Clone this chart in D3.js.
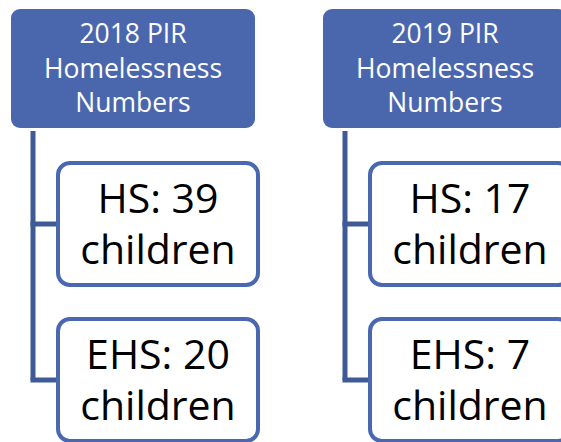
<!DOCTYPE html>
<html>
<head>
<meta charset="utf-8">
<script src="https://cdn.jsdelivr.net/npm/d3@7"></script>
<style>
  html, body { margin: 0; padding: 0; background: #fff; }
  svg { display: block; }
  text { font-family: "Open Sans", "Noto Sans", sans-serif; }
</style>
</head>
<body>
<svg id="chart" width="561" height="442"></svg>
<script>
// Data
const years = ['2018', '2019'];
const programs = ['HS', 'EHS'];
const hsCounts = [39, 17];
const ehsCounts = [20, 7];
const headerLines = ['PIR', 'Homelessness', 'Numbers'];

// Colours
const HEADER_FILL = '#4a67ae';
const LINK_COLOR = '#3f5b97';
const CHILD_STROKE = '#4a68b0';

const svg = d3.select('#chart');

// column per year, row per program
let x = d3.scaleBand().domain(years).range([11, 567]).paddingInner(68 / 312);
let y = d3.scaleBand().domain(programs).range([161, 443]).paddingInner(30 / 156);

const HEADER_TOP = 9, HEADER_H = 119;
const CHILD_OFFSET = 45, CHILD_W = 204;
const LINK_OFFSET = 22;

let counts = { HS: hsCounts, EHS: ehsCounts };

years.forEach((yr, i) => {
  let cx = x(yr);
  let g = svg.append('g');

  // connector: vertical trunk then one branch per child
  let lx = cx + LINK_OFFSET;
  let lastMid = y(programs[programs.length - 1]) + y.bandwidth() / 2;
  g.append('path')
    .attr('d', `M${lx},${HEADER_TOP + HEADER_H + 3}V${lastMid}`)
    .attr('stroke', LINK_COLOR).attr('stroke-width', 5).attr('fill', 'none');
  programs.forEach(p => {
    let mid = y(p) + y.bandwidth() / 2;
    g.append('line')
      .attr('x1', lx - 2.5).attr('x2', cx + CHILD_OFFSET + 2)
      .attr('y1', mid).attr('y2', mid)
      .attr('stroke', LINK_COLOR).attr('stroke-width', 5);
  });

  // header
  g.append('rect')
    .attr('x', cx).attr('y', HEADER_TOP)
    .attr('width', x.bandwidth()).attr('height', HEADER_H)
    .attr('rx', 9).attr('fill', HEADER_FILL);
  let hText = g.append('text')
    .attr('text-anchor', 'middle').attr('fill', '#fff')
    .attr('font-size', 26.5);
  [yr + ' ' + headerLines[0], headerLines[1], headerLines[2]].forEach((t, k) => {
    hText.append('tspan').attr('x', cx + x.bandwidth() / 2)
      .attr('y', HEADER_TOP + 34 + k * 34.5).text(t);
  });

  // children
  programs.forEach(p => {
    let by = y(p);
    let bx = cx + CHILD_OFFSET;
    g.append('rect')
      .attr('x', bx + 2).attr('y', by + 2)
      .attr('width', CHILD_W - 4).attr('height', y.bandwidth() - 4)
      .attr('rx', 12).attr('fill', '#fff')
      .attr('stroke', CHILD_STROKE).attr('stroke-width', 4);
    let t = g.append('text')
      .attr('text-anchor', 'middle').attr('fill', '#000')
      .attr('font-size', 41);
    t.append('tspan').attr('x', bx + CHILD_W / 2).attr('y', by + 52)
      .text(p + ': ' + counts[p][i]);
    t.append('tspan').attr('x', bx + CHILD_W / 2).attr('y', by + 103)
      .text('children');
  });
});
</script>
</body>
</html>
